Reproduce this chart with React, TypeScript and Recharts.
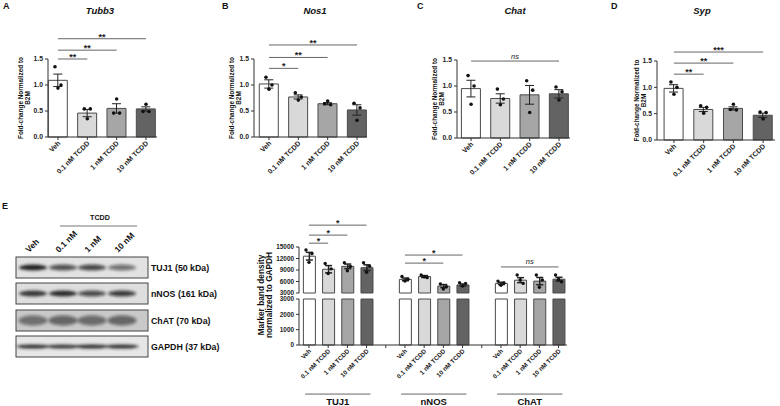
import React from 'react';
import { ComposedChart, Bar, Cell, ErrorBar, Scatter, XAxis, YAxis, ReferenceLine } from 'recharts';

const FONT = '"Liberation Sans", Arial, sans-serif';
const AXIS = '#333';

const doses = ['Veh', '0.1 nM TCDD', '1 nM TCDD', '10 nM TCDD'];
const doseFills = ['#ffffff', '#d9d9d9', '#a6a6a6', '#636363'];
const foldTicks = [0, 0.5, 1, 1.5];

// qPCR fold-change: mean, SEM and the three replicates per dose
const tubb3Mean = [1.09, 0.46, 0.55, 0.54];
const tubb3Sem = [0.12, 0.07, 0.09, 0.04];
const tubb3Reps = [[1.35, 1.0, 0.94], [0.54, 0.54, 0.35], [0.46, 0.46, 0.73], [0.49, 0.49, 0.63]];
const tubb3SigTo = [1, 2, 3];
const tubb3SigY = [1.5, 1.67, 1.89];
const tubb3SigText = ['**', '**', '**'];

const nos1Mean = [1.02, 0.77, 0.64, 0.52];
const nos1Sem = [0.08, 0.04, 0.02, 0.1];
const nos1Reps = [[1.15, 1.0, 0.92], [0.85, 0.77, 0.71], [0.64, 0.62, 0.69], [0.65, 0.56, 0.32]];
const nos1SigTo = [1, 2, 3];
const nos1SigY = [1.32, 1.53, 1.77];
const nos1SigText = ['*', '**', '**'];

const chatMean = [0.95, 0.76, 0.83, 0.85];
const chatSem = [0.16, 0.09, 0.18, 0.08];
const chatReps = [[1.2, 1.0, 0.65], [0.94, 0.75, 0.64], [1.1, 0.92, 0.49], [0.98, 0.89, 0.73]];
const chatSigTo = [3];
const chatSigY = [1.48];
const chatSigText = ['ns'];

const sypMean = [0.98, 0.58, 0.6, 0.47];
const sypSem = [0.07, 0.04, 0.03, 0.04];
const sypReps = [[1.1, 1.0, 0.87], [0.65, 0.62, 0.51], [0.58, 0.57, 0.68], [0.53, 0.52, 0.4]];
const sypSigTo = [1, 2, 3];
const sypSigY = [1.25, 1.46, 1.67];
const sypSigText = ['**', '**', '***'];

// western blot densitometry
const markers = ['TUJ1', 'nNOS', 'ChAT'];
const densMean = [[12600, 9200, 9950, 9600], [6550, 7300, 4800, 5100], [5500, 6350, 6100, 6600]];
const densSem = [[1000, 950, 600, 750], [350, 250, 400, 250], [300, 650, 950, 500]];
const densReps = [
  [[14200, 13300, 11000], [10700, 9300, 8100], [10900, 9900, 8800], [10900, 10000, 8400]],
  [[7300, 6600, 6100], [7700, 7000, 7250], [5350, 4650, 4050], [5700, 5500, 4800]],
  [[6100, 5600, 5000], [7700, 5500, 6400], [7700, 6400, 4500], [7700, 5950, 6550]],
];
const densUpperTicks = [3000, 6000, 9000, 12000, 15000];
const densLowerTicks = [0, 1000, 2000, 3000];
const densSigGroup = [0, 0, 0, 1, 1, 2];
const densSigTo = [1, 2, 3, 2, 3, 3];
const densSigY = [16000, 18100, 20700, 10800, 12900, 9800];
const densSigText = ['*', '*', '*', '*', '*', 'ns'];

const blotLanes = ['Veh', '0.1 nM', '1 nM', '10 nM'];
const blotRows = ['TUJ1 (50 kDa)', 'nNOS (161 kDa)', 'ChAT (70 kDa)', 'GAPDH (37 kDa)'];
const blotStrength = [[0.95, 0.7, 0.75, 0.55], [0.85, 0.9, 0.72, 0.8], [0.5, 0.55, 0.52, 0.55], [0.9, 0.85, 0.9, 0.9]];

const jitter = [-3, 3, 0];

const SlantTick = (props: any) => {
  const { x, y, payload, labels, fontSize } = props;
  const label = labels[Math.round(payload.value)] ?? '';
  return (
    <g transform={`translate(${x + 1},${y})`}>
      <text textAnchor="end" transform="rotate(-45)" dy="0.35em" fontSize={fontSize} fontWeight="bold" fill="#222" fontFamily={FONT}>
        {label}
      </text>
    </g>
  );
};

const FoldLabel = (props: any) => {
  const { viewBox, dx } = props;
  const cx = viewBox.x + viewBox.width - dx;
  const cy = viewBox.y + viewBox.height / 2;
  return (
    <text transform={`rotate(-90, ${cx}, ${cy})`} x={cx} y={cy} textAnchor="middle" dominantBaseline="central"
      fontSize={6.4} fontWeight="bold" fill="#111" fontFamily={FONT}>
      <tspan x={cx} dy={0}>Fold-change Normalized to</tspan>
      <tspan x={cx} dy={7}>B2M</tspan>
    </text>
  );
};

const SigText = (props: any) => {
  const { viewBox, text } = props;
  const cx = viewBox.x + viewBox.width / 2;
  const ns = text === 'ns';
  return (
    <text x={cx} y={ns ? viewBox.y - 2.5 : viewBox.y + 1} textAnchor="middle" fontSize={ns ? 7.5 : 9}
      fontWeight={ns ? 'normal' : 'bold'} fontStyle={ns ? 'italic' : 'normal'} fill="#222" fontFamily={FONT}>
      {text}
    </text>
  );
};

const GroupText = (props: any) => {
  const { viewBox, text } = props;
  return (
    <text x={viewBox.x + viewBox.width / 2} y={viewBox.y + 11} textAnchor="middle" fontSize={9.5} fontWeight="bold" fill="#111" fontFamily={FONT}>
      {text}
    </text>
  );
};

const dotShape = (dx: number, r: number) => (p: any) =>
  p.cx == null ? <g /> : <circle cx={p.cx + dx} cy={p.cy} r={r} fill="#111" />;

type PanelLayout = { left: number; width: number; plotLeft: number; plotRight: number; top: number; bottom: number; domain: [number, number]; labelDx: number };

const panelLayouts: PanelLayout[] = [
  { left: 0, width: 195, plotLeft: 48, plotRight: 157, top: 59, bottom: 137, domain: [-0.34, 3.375], labelDx: 28 },
  { left: 195, width: 195, plotLeft: 59, plotRight: 172, top: 59, bottom: 137, domain: [-0.51, 3.34], labelDx: 23 },
  { left: 390, width: 190, plotLeft: 67, plotRight: 180, top: 60, bottom: 138, domain: [-0.48, 3.375], labelDx: 23 },
  { left: 580, width: 200, plotLeft: 77, plotRight: 195, top: 61, bottom: 140, domain: [-0.57, 3.4], labelDx: 21 },
];

function FoldPanel(props: {
  layout: PanelLayout; mean: number[]; sem: number[]; reps: number[][];
  sigTo: number[]; sigY: number[]; sigText: string[];
}) {
  const { layout, mean, sem, reps, sigTo, sigY, sigText } = props;
  const data = doses.map((d, i) => ({ x: i, name: d, mean: mean[i], sem: sem[i], p1: reps[i][0], p2: reps[i][1], p3: reps[i][2] }));
  const H = 200;
  return (
    <div style={{ position: 'absolute', left: layout.left, top: 0 }}>
      <ComposedChart width={layout.width} height={H} data={data}
        margin={{ top: layout.top, right: layout.width - layout.plotRight, bottom: H - layout.bottom - 50, left: layout.plotLeft - 30 }}>
        <XAxis type="number" dataKey="x" domain={layout.domain} ticks={[0, 1, 2, 3]} interval={0} height={50}
          tickSize={3} stroke={AXIS} tick={<SlantTick labels={doses} fontSize={7} />} />
        <YAxis type="number" domain={[0, 1.5]} ticks={foldTicks} interval={0} width={30} tickSize={3} stroke={AXIS}
          tick={{ fontSize: 6.8, fontWeight: 'bold', fill: '#222', fontFamily: FONT }}
          tickFormatter={(v: number) => v.toFixed(1)} label={<FoldLabel dx={layout.labelDx} />} />
        <Bar dataKey="mean" barSize={19} stroke="#4a4a4a" strokeWidth={1} isAnimationActive={false}>
          {data.map((_, i) => <Cell key={i} fill={doseFills[i]} />)}
          <ErrorBar dataKey="sem" width={4.5} stroke="#222" strokeWidth={1} />
        </Bar>
        {['p1', 'p2', 'p3'].map((k, j) => (
          <Scatter key={k} dataKey={k} isAnimationActive={false} shape={dotShape(jitter[j], 1.8)} />
        ))}
        {sigTo.map((to, i) => (
          <ReferenceLine key={i} ifOverflow="visible" stroke="#666" strokeWidth={1}
            segment={[{ x: 0, y: sigY[i] }, { x: to, y: sigY[i] }]}
            label={<SigText text={sigText[i]} />} />
        ))}
      </ComposedChart>
    </div>
  );
}

const densData = markers.flatMap((m, g) =>
  doses.map((d, i) => ({
    x: g * 5 + i, mean: densMean[g][i], low: Math.min(densMean[g][i], 3000), sem: densSem[g][i],
    p1: densReps[g][i][0], p2: densReps[g][i][1], p3: densReps[g][i][2], fill: doseFills[i],
  })),
);
const densSlots = Array.from({ length: 14 }, (_, s) => s);
const densLabels = densSlots.map((s) => (s % 5 === 4 ? '' : doses[s % 5]));
const densDomain: [number, number] = [-0.52, 13.44];

function DensityChart() {
  return (
    <>
      <div style={{ position: 'absolute', left: 240, top: 200 }}>
        <ComposedChart width={340} height={100} data={densData} margin={{ top: 47, right: 13, bottom: 7, left: 29 }}>
          <XAxis type="number" dataKey="x" domain={densDomain} hide />
          <YAxis type="number" domain={[3000, 15000]} ticks={densUpperTicks} interval={0} width={30} tickSize={3} stroke={AXIS}
            tick={{ fontSize: 6.4, fontWeight: 'bold', fill: '#222', fontFamily: FONT }} />
          <Bar dataKey="mean" barSize={12} stroke="#4a4a4a" isAnimationActive={false}>
            {densData.map((d, i) => <Cell key={i} fill={d.fill} />)}
            <ErrorBar dataKey="sem" width={3.5} stroke="#222" />
          </Bar>
          {['p1', 'p2', 'p3'].map((k, j) => (
            <Scatter key={k} dataKey={k} isAnimationActive={false} shape={dotShape(jitter[j], 1.7)} />
          ))}
          {densSigTo.map((to, i) => (
            <ReferenceLine key={i} ifOverflow="visible" stroke="#666"
              segment={[{ x: densSigGroup[i] * 5, y: densSigY[i] }, { x: densSigGroup[i] * 5 + to, y: densSigY[i] }]}
              label={<SigText text={densSigText[i]} />} />
          ))}
        </ComposedChart>
      </div>
      <div style={{ position: 'absolute', left: 240, top: 290 }}>
        <ComposedChart width={340} height={116} data={densData} margin={{ top: 9, right: 13, bottom: 11, left: 29 }}>
          <XAxis type="number" dataKey="x" domain={densDomain} ticks={densSlots} interval={0} height={50}
            tickSize={3} stroke={AXIS} tick={<SlantTick labels={densLabels} fontSize={6.3} />} />
          <YAxis type="number" domain={[0, 3000]} ticks={densLowerTicks} interval={0} width={30} tickSize={3} stroke={AXIS}
            tick={{ fontSize: 6.4, fontWeight: 'bold', fill: '#222', fontFamily: FONT }} />
          <Bar dataKey="low" barSize={12} stroke="#4a4a4a" isAnimationActive={false}>
            {densData.map((d, i) => <Cell key={i} fill={d.fill} />)}
          </Bar>
          {markers.map((m, g) => (
            <ReferenceLine key={m} ifOverflow="visible" stroke="#666"
              segment={[{ x: g * 5 - 0.2, y: -3200 }, { x: g * 5 + 3.2, y: -3200 }]}
              label={<GroupText text={m} />} />
          ))}
        </ComposedChart>
      </div>
    </>
  );
}

const laneX = [33, 63, 92, 122];
const rowTop = [257, 283, 310, 336];
const rowBg = ['#e2e2e2', '#dedede', '#c9c9c9', '#e6e6e6'];
const bandH = [6, 6, 10, 4];
const bandW = [28, 28, 29, 33];

function Blot() {
  return (
    <g>
      <defs>
        <filter id="blur" x="-30%" y="-80%" width="160%" height="260%">
          <feGaussianBlur stdDeviation="1.6" />
        </filter>
      </defs>
      <text x={100} y={220} textAnchor="middle" fontSize={7.2} fontWeight="bold" fill="#111">TCDD</text>
      <line x1={60} x2={137} y1={226} y2={226} stroke="#777" strokeWidth={1} />
      {blotLanes.map((l, i) => (
        <text key={l} x={laneX[i] - 4} y={253} transform={`rotate(-45, ${laneX[i] - 4}, 253)`} fontSize={8.5} fontWeight="bold" fill="#111">{l}</text>
      ))}
      {blotRows.map((r, ri) => (
        <g key={r}>
          <rect x={16} y={rowTop[ri]} width={132} height={21} fill={rowBg[ri]} />
          <g filter="url(#blur)">
            {blotStrength[ri].map((s, li) => (
              <ellipse key={li} cx={laneX[li]} cy={rowTop[ri] + 10.5} rx={bandW[ri] / 2} ry={bandH[ri] / 2} fill="#141414" opacity={s} />
            ))}
          </g>
          <rect x={16} y={rowTop[ri]} width={132} height={21} fill="none" stroke="#444" strokeWidth={1} />
          <text x={151} y={rowTop[ri] + 14} fontSize={8.8} fontWeight="bold" fill="#111">{r}</text>
        </g>
      ))}
    </g>
  );
}

const panelLetters = ['A', 'B', 'C', 'D'];
const letterX = [3, 222, 417, 611];
const panelTitles = ['Tubb3', 'Nos1', 'Chat', 'Syp'];
const titleX = [100, 315, 515, 702];

export default function App() {
  return (
    <div style={{ position: 'fixed', left: 0, top: 0, width: 780, height: 406, background: '#fff', overflow: 'hidden', fontFamily: FONT }}>
      <FoldPanel layout={panelLayouts[0]} mean={tubb3Mean} sem={tubb3Sem} reps={tubb3Reps} sigTo={tubb3SigTo} sigY={tubb3SigY} sigText={tubb3SigText} />
      <FoldPanel layout={panelLayouts[1]} mean={nos1Mean} sem={nos1Sem} reps={nos1Reps} sigTo={nos1SigTo} sigY={nos1SigY} sigText={nos1SigText} />
      <FoldPanel layout={panelLayouts[2]} mean={chatMean} sem={chatSem} reps={chatReps} sigTo={chatSigTo} sigY={chatSigY} sigText={chatSigText} />
      <FoldPanel layout={panelLayouts[3]} mean={sypMean} sem={sypSem} reps={sypReps} sigTo={sypSigTo} sigY={sypSigY} sigText={sypSigText} />
      <DensityChart />
      <svg width={780} height={406} style={{ position: 'absolute', left: 0, top: 0, pointerEvents: 'none' }} fontFamily={FONT}>
        {panelLetters.map((l, i) => (
          <text key={l} x={letterX[i]} y={9} fontSize={9} fontWeight="bold" fill="#111">{l}</text>
        ))}
        {panelTitles.map((t, i) => (
          <text key={t} x={titleX[i]} y={14} textAnchor="middle" fontSize={9.5} fontWeight="bold" fontStyle="italic" fill="#111">{t}</text>
        ))}
        <text x={2} y={209} fontSize={9} fontWeight="bold" fill="#111">E</text>
        <Blot />
        <text transform="rotate(-90, 261, 295)" x={261} y={295} textAnchor="middle" dominantBaseline="central" fontSize={8.3} fontWeight="bold" fill="#111">
          <tspan x={261} dy={0}>Marker band density</tspan>
          <tspan x={261} dy={8}>normalized to GAPDH</tspan>
        </text>
      </svg>
    </div>
  );
}
